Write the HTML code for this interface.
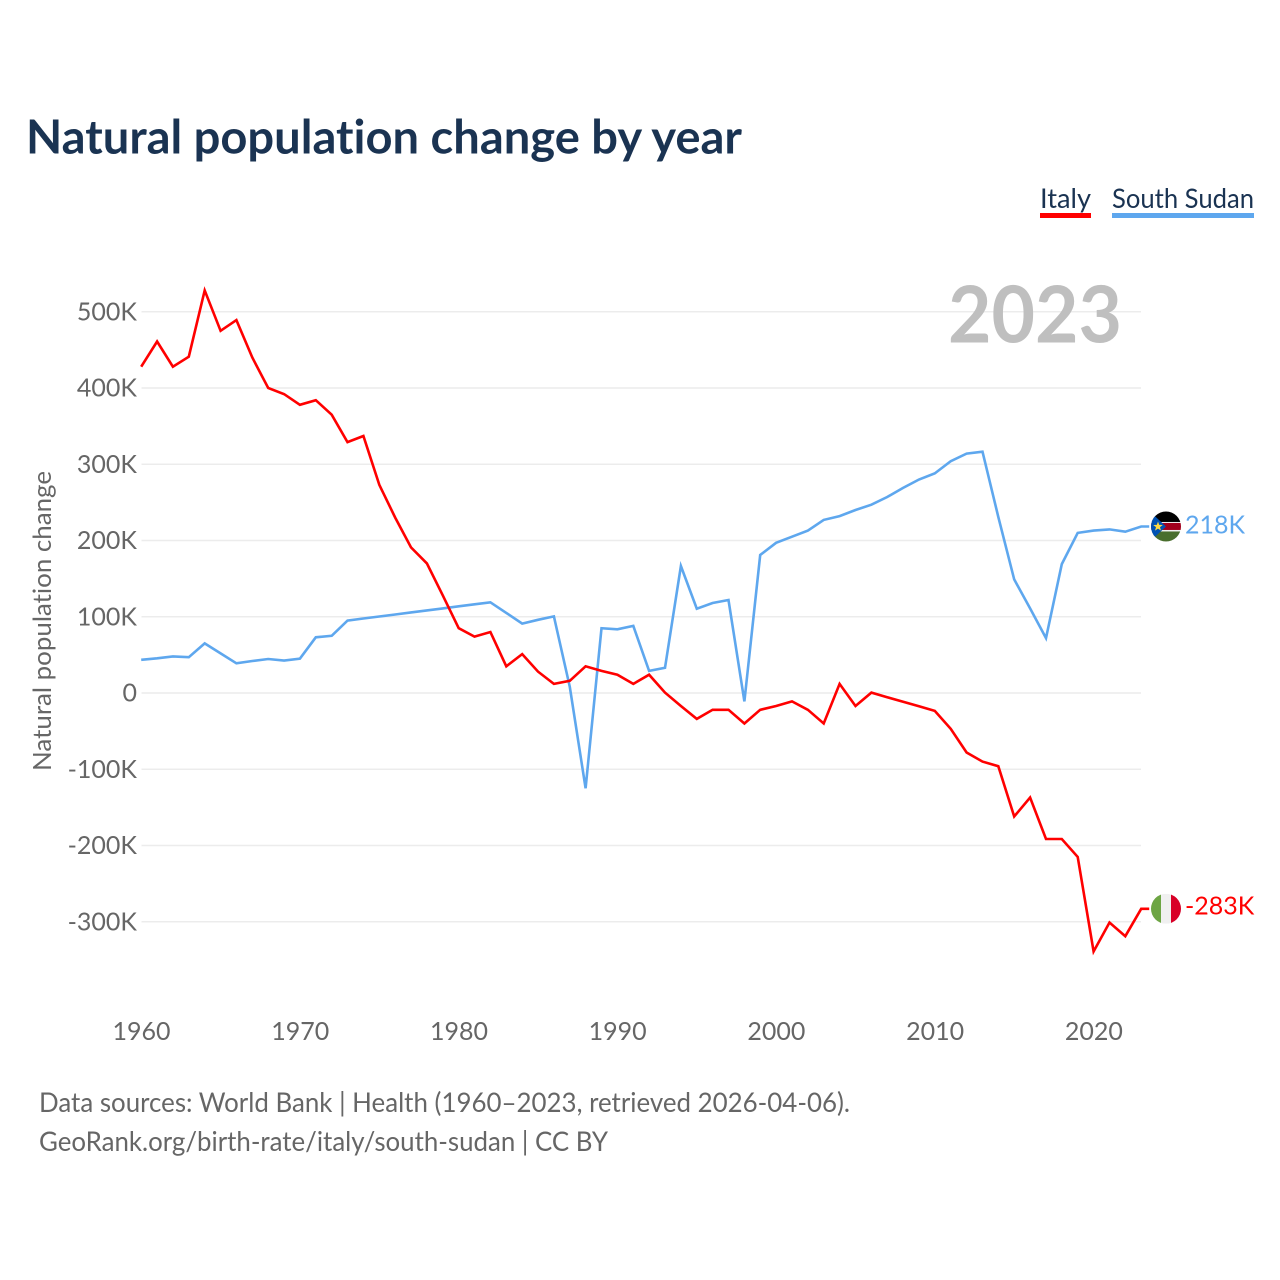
<!DOCTYPE html>
<html lang="en">
<head>
<meta charset="utf-8">
<title>Natural population change by year</title>
<style>
html,body{margin:0;padding:0;background:#fff;width:1280px;height:1280px;overflow:hidden}
svg{display:block}
text{font-family:"Lato","Carlito","Liberation Sans",sans-serif;font-variant-ligatures:none}
</style>
</head>
<body>
<svg id="chart" xmlns="http://www.w3.org/2000/svg" width="1280" height="1280" viewBox="0 0 1280 1280">
  <defs>
    <clipPath id="flag-clip-it"><circle id="clip-it" cx="0" cy="0" r="15"></circle></clipPath>
    <clipPath id="flag-clip-ss"><circle id="clip-ss" cx="0" cy="0" r="15"></circle></clipPath>
  </defs>
  <rect width="1280" height="1280" fill="#fff"></rect>
  <text x="26" y="153.5" font-size="47" font-weight="700" fill="#1a3352" textLength="716" lengthAdjust="spacingAndGlyphs">Natural population change by year</text>

  <g>
    <g>
      <text x="1040" y="208" font-size="27" fill="#1a3352" textLength="51" lengthAdjust="spacingAndGlyphs">Italy</text>
      <rect x="1040" y="213" width="51" height="5" fill="#ff0000"></rect>
    </g>
    <g>
      <text x="1112" y="208" font-size="27" fill="#1a3352" textLength="142" lengthAdjust="spacingAndGlyphs">South Sudan</text>
      <rect x="1112" y="213" width="142" height="5" fill="#5ea7ee"></rect>
    </g>
  </g>

  <g id="grid"></g>
  <g id="y-ticks"></g>
  <g id="x-ticks"></g>

  <text x="0" y="0" transform="translate(51,621) rotate(-90)" text-anchor="middle" font-size="25.5" fill="#666666" textLength="300" lengthAdjust="spacingAndGlyphs">Natural population change</text>

  <text x="1122" y="342.5" text-anchor="end" font-size="79" font-weight="700" fill="#bfbfbf" textLength="174" lengthAdjust="spacingAndGlyphs">2023</text>

  <path id="line-south-sudan" fill="none" stroke="#5ea7ee" stroke-width="2.6" stroke-linejoin="miter"></path>
  <path id="line-italy" fill="none" stroke="#ff0000" stroke-width="2.6" stroke-linejoin="miter"></path>

  <g id="flag-ss">
    <g clip-path="url(#flag-clip-ss)">
      <rect x="-15" y="-15" width="30" height="30" fill="#f0f0f0"></rect>
      <rect x="-15" y="-15" width="30" height="10.5" fill="#000000"></rect>
      <rect x="-15" y="-3.5" width="30" height="7" fill="#a2001d"></rect>
      <rect x="-15" y="5" width="30" height="10" fill="#496e2d"></rect>
      <polygon points="-15,-14 0,0 -15,14" fill="#0052b4"></polygon>
      <polygon points="-8,-5 -6.8,-1.6 -3.2,-1.5 -6,0.7 -5,4.2 -8,2.2 -11,4.2 -10,0.7 -12.8,-1.5 -9.2,-1.6" fill="#ffda44"></polygon>
    </g>
  </g>
  <g id="flag-it">
    <g clip-path="url(#flag-clip-it)">
      <rect x="-15" y="-15" width="30" height="30" fill="#f0f0f0"></rect>
      <rect x="-15" y="-15" width="10" height="30" fill="#6da544"></rect>
      <rect x="5" y="-15" width="10" height="30" fill="#d80027"></rect>
    </g>
  </g>
  <text id="label-ss" x="1185" font-size="25" fill="#5ea7ee"></text>
  <text id="label-it" x="1185" font-size="25" fill="#ff0000"></text>

  <g>
    <text x="39" y="1112" font-size="27" fill="#666666" textLength="811" lengthAdjust="spacingAndGlyphs">Data sources: World Bank | Health (1960–2023, retrieved 2026-04-06).</text>
    <text x="39" y="1151" font-size="27" fill="#666666" textLength="569" lengthAdjust="spacingAndGlyphs">GeoRank.org/birth-rate/italy/south-sudan | CC BY</text>
  </g>
</svg>
<script>
const firstYear = 1960;
const xTickYears = [1960, 1970, 1980, 1990, 2000, 2010, 2020];
const yTickValues = [-300, -200, -100, 0, 100, 200, 300, 400, 500];
const italyValues = [428, 461, 428, 441, 528, 475, 489, 440, 400, 392, 378, 384, 365, 329, 337, 273, 230, 191, 170, 128, 85, 74, 80, 35, 51, 28, 12, 16, 35, 29, 24, 12, 24, 0.5, -17, -34, -22, -22, -40, -22, -17, -11, -22, -40, 12, -17, 0.5, -5.5, -11.5, -17.5, -23.5, -47, -78, -90, -96, -162, -137, -191.5, -191.5, -215, -339, -301, -319, -283];
const southSudanValues = [43.5, 45.5, 48, 47, 65, 52, 39, 42, 44.6, 42.5, 45, 73, 75, 95, 97.7, 100.3, 103, 105.7, 108.3, 111, 113.7, 116.3, 119, 105, 91, 96, 100.5, 8, -125, 85, 83.5, 88, 29, 33, 166.5, 110.6, 118, 122, -11, 181, 197, 205, 213, 227, 232, 240, 247, 257, 269, 280, 288, 304, 314, 316.5, 231, 149, 111, 72, 169, 210, 213, 214.6, 211.6, 218.4];

const svgNS = 'http://www.w3.org/2000/svg';
function xScale(year) { return 141.2 + (year - firstYear) * 15.873; }
function yScale(value) { return 693 - value * 0.7625; }
function formatK(value) { return value === 0 ? '0' : Math.round(value) + 'K'; }
function linePath(values) {
  const pts = values.map(function (v, i) { return xScale(firstYear + i).toFixed(1) + ' ' + yScale(v).toFixed(1); });
  const last = values[values.length - 1];
  pts.push((xScale(firstYear + values.length - 1) + 8).toFixed(1) + ' ' + yScale(last).toFixed(1));
  return 'M' + pts.join('L');
}

const gridGroup = document.getElementById('grid');
const yTickGroup = document.getElementById('y-ticks');
const xTickGroup = document.getElementById('x-ticks');

yTickValues.forEach(function (v) {
  const line = document.createElementNS(svgNS, 'line');
  line.setAttribute('x1', 141.5);
  line.setAttribute('x2', 1141);
  line.setAttribute('y1', yScale(v));
  line.setAttribute('y2', yScale(v));
  line.setAttribute('stroke', '#ececec');
  line.setAttribute('stroke-width', '1.5');
  
  
  gridGroup.appendChild(line);

  const label = document.createElementNS(svgNS, 'text');
  label.setAttribute('x', 137);
  label.setAttribute('y', yScale(v) + 8.5);
  label.setAttribute('text-anchor', 'end');
  label.setAttribute('font-size', '25');
  label.setAttribute('fill', '#666666');
  label.textContent = formatK(v);
  
  
  yTickGroup.appendChild(label);
});

xTickYears.forEach(function (year) {
  const label = document.createElementNS(svgNS, 'text');
  label.setAttribute('x', xScale(year) + 0.3);
  label.setAttribute('y', 1040);
  label.setAttribute('text-anchor', 'middle');
  label.setAttribute('font-size', '25');
  label.setAttribute('fill', '#666666');
  label.textContent = String(year);
  
  
  xTickGroup.appendChild(label);
});

document.getElementById('line-italy').setAttribute('d', linePath(italyValues));
document.getElementById('line-south-sudan').setAttribute('d', linePath(southSudanValues));

const italyLast = italyValues[italyValues.length - 1];
const southSudanLast = southSudanValues[southSudanValues.length - 1];
document.getElementById('flag-it').setAttribute('transform', 'translate(1166,' + yScale(italyLast) + ')');
document.getElementById('flag-ss').setAttribute('transform', 'translate(1166,' + yScale(southSudanLast) + ')');
const italyLabel = document.getElementById('label-it');
italyLabel.setAttribute('y', yScale(italyLast) + 5.5);
italyLabel.textContent = formatK(italyLast);
const southSudanLabel = document.getElementById('label-ss');
southSudanLabel.setAttribute('y', yScale(southSudanLast) + 7);
southSudanLabel.textContent = formatK(southSudanLast);
</script>
</body>
</html>
